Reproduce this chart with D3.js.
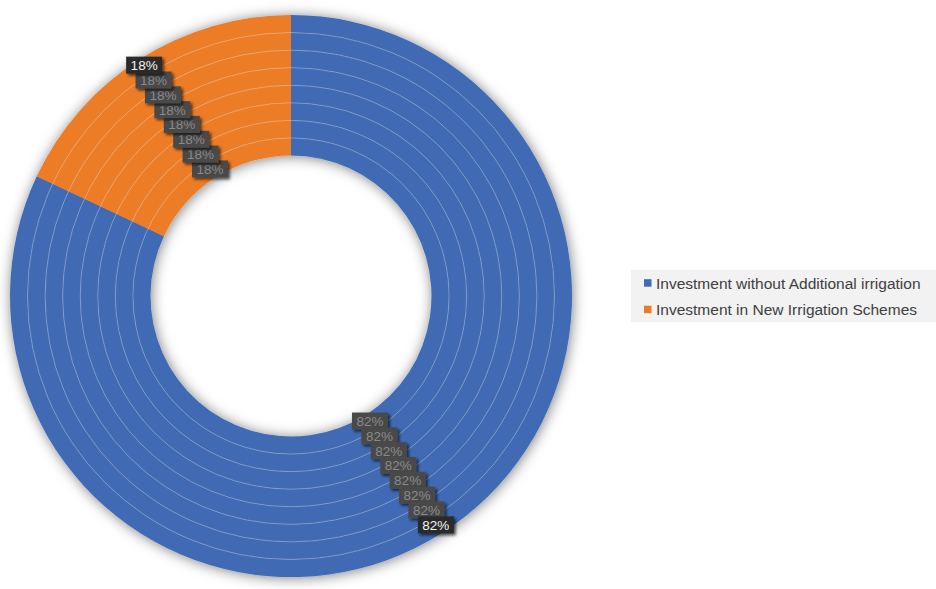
<!DOCTYPE html>
<html>
<head>
<meta charset="utf-8">
<script src="https://cdn.jsdelivr.net/npm/d3@7"></script>
<style>
  html, body { margin: 0; padding: 0; background: #ffffff; }
  svg { display: block; font-family: "Liberation Sans", Arial, sans-serif; }
</style>
</head>
<body>
<svg id="chart" width="936" height="589"></svg>
<script>
// Categories and ring values (eight concentric rings, innermost first)
const categories = ["Investment without Additional irrigation", "Investment in New Irrigation Schemes"];
const withoutIrrigation = [82, 82, 82, 82, 82, 82, 82, 82];
const newSchemes = [18, 18, 18, 18, 18, 18, 18, 18];
const colors = ["#3f6ab4", "#ec7b25"];

const width = 936, height = 589;
const cx = 291, cy = 296;
const innerR = 140.5, outerR = 281;
const nRings = withoutIrrigation.length;

const svg = d3.select("#chart");
const defs = svg.append("defs");

const ringShadow = defs.append("filter").attr("id", "ringShadow")
  .attr("x", "-10%").attr("y", "-10%").attr("width", "120%").attr("height", "120%");
ringShadow.append("feDropShadow").attr("dx", 1).attr("dy", 1)
  .attr("stdDeviation", 6.5).attr("flood-color", "#000").attr("flood-opacity", 0.5);

const labelShadow = defs.append("filter").attr("id", "labelShadow")
  .attr("x", "-30%").attr("y", "-40%").attr("width", "170%").attr("height", "190%");
labelShadow.append("feDropShadow").attr("dx", 2).attr("dy", 2)
  .attr("stdDeviation", 1.6).attr("flood-color", "#000").attr("flood-opacity", 0.65);

const ringScale = d3.scaleLinear().domain([0, nRings]).range([innerR, outerR]);
const pie = d3.pie().sort(null).value(d => d.value);

const rings = d3.range(nRings).map(i => ({
  index: i,
  slices: pie([
    { key: categories[0], value: withoutIrrigation[i] },
    { key: categories[1], value: newSchemes[i] }
  ])
}));

const g = svg.append("g").attr("transform", `translate(${cx},${cy})`);

// Rings
const ringLayer = g.append("g").attr("filter", "url(#ringShadow)");
rings.forEach(r => {
  const arc = d3.arc().innerRadius(ringScale(r.index)).outerRadius(ringScale(r.index + 1));
  ringLayer.selectAll(null).data(r.slices).enter().append("path")
    .attr("d", arc)
    .attr("fill", (d, j) => colors[j]);
});

// Thin separators between rings
g.append("g").selectAll("circle")
  .data(d3.range(1, nRings))
  .enter().append("circle")
  .attr("r", d => ringScale(d))
  .attr("fill", "none")
  .attr("stroke", "#ffffff")
  .attr("stroke-opacity", 0.4)
  .attr("stroke-width", 0.7);

// Percentage labels, innermost drawn first so the outer ring's labels sit on top
const labelLayer = g.append("g");
rings.forEach(r => {
  const mid = (ringScale(r.index) + ringScale(r.index + 1)) / 2;
  const arc = d3.arc().innerRadius(mid).outerRadius(mid);
  const total = d3.sum(r.slices, s => s.value);
  const outer = r.index === nRings - 1;
  r.slices.forEach(s => {
    const [x, y] = arc.centroid(s);
    const lg = labelLayer.append("g").attr("transform", `translate(${x - 1},${y - 1})`);
    lg.append("rect")
      .attr("x", -18).attr("y", -8.5).attr("width", 36).attr("height", 17)
      .attr("fill", outer ? "#2a2a2a" : "#4a4a4a")
      .attr("filter", "url(#labelShadow)");
    lg.append("text")
      .attr("text-anchor", "middle").attr("dy", "0.36em")
      .attr("font-size", 13.5)
      .attr("fill", outer ? "#f4f4f4" : "#8a8a8a")
      .text(d3.format(".0%")(s.value / total));
  });
});

// Legend
const legend = svg.append("g");
legend.append("rect")
  .attr("x", 631).attr("y", 270).attr("width", 305).attr("height", 52)
  .attr("fill", "#f2f2f2");
const rowY = d3.scalePoint().domain(categories).range([283, 309.5]);
const items = legend.selectAll("g.item").data(categories).enter().append("g")
  .attr("transform", d => `translate(644,${rowY(d)})`);
items.append("rect")
  .attr("x", 0).attr("y", -3.8).attr("width", 7.5).attr("height", 7.5)
  .attr("fill", (d, i) => colors[i]);
items.append("text")
  .attr("x", 12).attr("dy", "0.36em")
  .attr("font-size", 15.5).attr("fill", "#404040")
  .text(d => d);
</script>
</body>
</html>
